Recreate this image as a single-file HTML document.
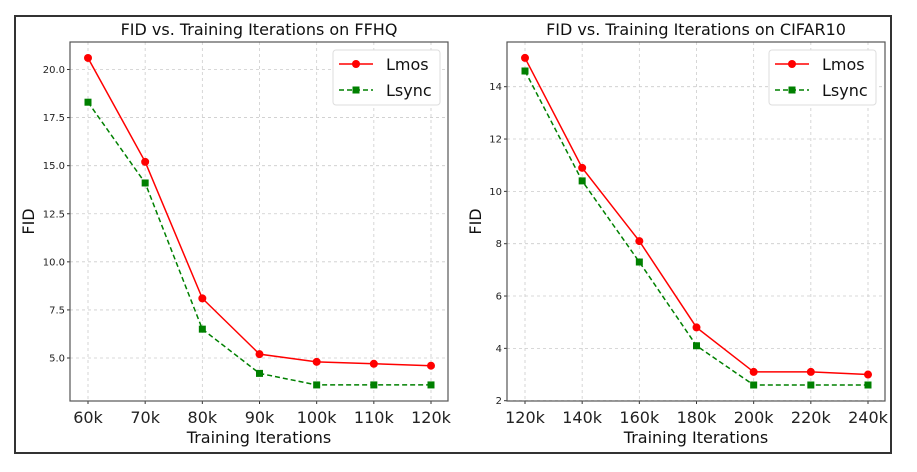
<!DOCTYPE html>
<html><head><meta charset="utf-8"><style>
body{margin:0;background:#fff}
svg{display:block;font-family:"DejaVu Sans","Liberation Sans",sans-serif}
</style></head><body>
<svg id="s" width="917" height="472" viewBox="0 0 917 472">
<rect x="15" y="16" width="876" height="437" fill="#fff" stroke="#333" stroke-width="2"/>
</svg>
<script>
const ffhqCategories=["60k","70k","80k","90k","100k","110k","120k"];
const ffhqLmos=[20.6,15.2,8.1,5.2,4.8,4.7,4.6];
const ffhqLsync=[18.3,14.1,6.5,4.2,3.6,3.6,3.6];
const ffhqYTicks=[5.0,7.5,10.0,12.5,15.0,17.5,20.0];
const cifarCategories=["120k","140k","160k","180k","200k","220k","240k"];
const cifarLmos=[15.1,10.9,8.1,4.8,3.1,3.1,3.0];
const cifarLsync=[14.6,10.4,7.3,4.1,2.6,2.6,2.6];
const cifarYTicks=[2,4,6,8,10,12,14];

const NS="http://www.w3.org/2000/svg";
const svg=document.getElementById('s');
function mk(t,a,p){const e=document.createElementNS(NS,t);for(const k in a)e.setAttribute(k,a[k]);(p||svg).appendChild(e);return e;}

function chart(o){
  const g=mk('g',{});
  
  
  const X=i=>o.x0+(o.x1-o.x0)*i/(o.cats.length-1);
  const Y=v=>o.yA+(v-o.vA)*(o.yB-o.yA)/(o.vB-o.vA);
  o.cats.forEach((c,i)=>{
    const l=mk('line',{x1:X(i),x2:X(i),y1:o.top,y2:o.bot,stroke:'#ccc','stroke-dasharray':'3,3','stroke-width':0.8},g);
    
    
    const t=mk('text',{x:X(i),y:o.bot+22,'font-size':16,'text-anchor':'middle',fill:'#222'},g);
    t.textContent=c;
    
    
    mk('line',{x1:X(i),x2:X(i),y1:o.bot,y2:o.bot+3,stroke:'#333'},g);
  });
  o.yt.forEach(v=>{
    const l=mk('line',{x1:o.left,x2:o.right,y1:Y(v),y2:Y(v),stroke:'#ccc','stroke-dasharray':'3,3','stroke-width':0.8},g);
    
    
    mk('line',{x1:o.left-3,x2:o.left,y1:Y(v),y2:Y(v),stroke:'#333'},g);
    const t=mk('text',{x:o.left-5,y:Y(v)+3.5,'font-size':10,'text-anchor':'end',fill:'#222'},g);
    t.textContent=o.fmt(v);
    
    
  });
  const fr=mk('rect',{x:o.left,y:o.top,width:o.right-o.left,height:o.bot-o.top,fill:'none',stroke:'#555','stroke-width':1.2},g);
  
  
  const red=mk('polyline',{points:o.a.map((v,i)=>X(i)+','+Y(v)).join(' '),fill:'none',stroke:'#f00','stroke-width':1.5},g);
  
  
  o.a.forEach((v,i)=>{const c=mk('circle',{cx:X(i),cy:Y(v),r:4,fill:'#f00'},g);
    
    });
  const gr=mk('polyline',{points:o.b.map((v,i)=>X(i)+','+Y(v)).join(' '),fill:'none',stroke:'#008000','stroke-width':1.5,'stroke-dasharray':'5,3'},g);
  
  
  o.b.forEach((v,i)=>{const c=mk('rect',{x:X(i)-3.5,y:Y(v)-3.5,width:7,height:7,fill:'#008000'},g);
    
    });
  const mid=(o.left+o.right)/2;
  const ti=mk('text',{x:mid,y:35,'font-size':16,'text-anchor':'middle',fill:'#111'},g);
  ti.textContent=o.title;
  
  
  const xl=mk('text',{x:mid,y:443,'font-size':16,'text-anchor':'middle',fill:'#111'},g);
  xl.textContent='Training Iterations';
  
  
  const yl=mk('text',{x:0,y:0,'font-size':16,'text-anchor':'middle',fill:'#111',transform:`translate(${o.ylx},${(o.top+o.bot)/2}) rotate(-90)`},g);
  yl.textContent='FID';
  
  
  const lg=mk('g',{},g);
  
  
  mk('rect',{x:o.lx,y:50,width:107,height:55,rx:3,fill:'#fff',stroke:'#ddd'},lg);
  mk('line',{x1:o.lx+6,x2:o.lx+40,y1:64,y2:64,stroke:'#f00','stroke-width':1.5},lg);
  mk('circle',{cx:o.lx+23,cy:64,r:4,fill:'#f00'},lg);
  mk('line',{x1:o.lx+6,x2:o.lx+40,y1:90,y2:90,stroke:'#008000','stroke-width':1.5,'stroke-dasharray':'5,3'},lg);
  mk('rect',{x:o.lx+19.5,y:86.5,width:7,height:7,fill:'#008000'},lg);
  const t1=mk('text',{x:o.lx+53,y:70,'font-size':16,fill:'#111'},lg);t1.textContent='Lmos';
  
  
  const t2=mk('text',{x:o.lx+53,y:96,'font-size':16,fill:'#111'},lg);t2.textContent='Lsync';
  
  
}
chart({name:'ffhq-chart',cats:ffhqCategories,a:ffhqLmos,b:ffhqLsync,yt:ffhqYTicks,fmt:v=>v.toFixed(1),
  left:70,right:448,top:42,bot:401,x0:88,x1:431,yA:69.5,vA:20,yB:358,vB:5,
  title:'FID vs. Training Iterations on FFHQ',ylx:34,lx:333});
chart({name:'cifar10-chart',cats:cifarCategories,a:cifarLmos,b:cifarLsync,yt:cifarYTicks,fmt:v=>String(v),
  left:507,right:885,top:42,bot:401,x0:525,x1:868,yA:86.7,vA:14,yB:400.7,vB:2,
  title:'FID vs. Training Iterations on CIFAR10',ylx:481,lx:769});
</script>
</body></html>
